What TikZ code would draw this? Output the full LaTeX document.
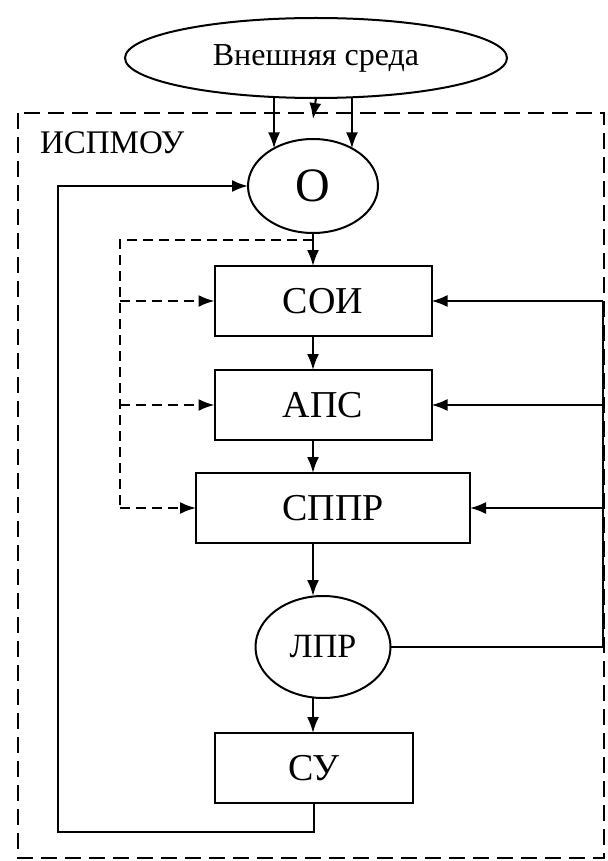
\documentclass[tikz,border=0pt]{standalone}
\usepackage{fontspec}
\setmainfont{Liberation Serif}
\usetikzlibrary{arrows.meta, positioning, shapes.geometric}

\begin{document}
\begin{tikzpicture}[x=0.5pt,y=-0.5pt,inner sep=0pt,outer sep=0pt,line width=1pt,
  blk/.style={draw,rectangle,minimum height=35pt,font=\fontsize{19}{21}\selectfont},
  oval/.style={draw,ellipse},
  arr/.style={-{Latex[length=8pt,width=6pt]}},
  frame/.style={dash pattern=on 8pt off 4pt},
  dsh/.style={dash pattern=on 5pt off 3pt}]
\useasboundingbox (0,0) rectangle (608,861);
\node[oval,minimum width=191pt,minimum height=40pt,font=\fontsize{16}{18}\selectfont] (env) at (316,58) {Внешняя среда};
\draw[frame] (18,113) rectangle (604,858);
\node[anchor=west,font=\fontsize{16.5}{18}\selectfont] (sysname) at (40,143) {ИСПМОУ};
\node[oval,minimum width=65pt,minimum height=47pt,font=\fontsize{24}{26}\selectfont] (obj) at (313,186) {О};
\node[blk,minimum width=108.5pt] (soi) at (323,301) {СОИ};
\node[blk,minimum width=108.5pt] (aps) at (323,405) {АПС};
\node[blk,minimum width=137pt] (sppr) at (333,508) {СППР};
\node[oval,minimum width=67.5pt,minimum height=51pt,font=\fontsize{17}{19}\selectfont] (lpr) at (323,647) {ЛПР};
\node[blk,minimum width=99pt] (su) at (314,768) {СУ};
\coordinate (fbd) at (120,240);
\coordinate (fbl) at (58,832);
\coordinate (fbr) at (603,647);
% inputs from the environment
\draw[arr] (env.south -| obj.136) -- (obj.136);
\draw[arr] (env.south) -- ([yshift=10pt]obj.north);
\draw[arr] (env.south -| obj.44) -- (obj.44);
% main chain
\draw[arr] (obj.south) -- (obj.south |- soi.north);
\draw[arr] (soi.south -| obj.south) -- (obj.south |- aps.north);
\draw[arr] (aps.south -| obj.south) -- (obj.south |- sppr.north);
\draw[arr] (sppr.south -| obj.south) -- (obj.south |- lpr.north);
\draw[arr] (lpr.south -| obj.south) -- (obj.south |- su.north);
% dashed feedback
\draw[dsh] (obj.south |- fbd) -- (fbd) -- (fbd |- sppr.west);
\foreach \n in {soi,aps,sppr}
  \draw[dsh,arr] (fbd |- \n.west) -- (\n.west);
% control loop
\draw[arr] (su.south) |- (fbl) |- (obj.west);
\draw (lpr.east) -- (fbr) -- (fbr |- soi.east);
\foreach \n in {soi,aps,sppr}
  \draw[arr] (fbr |- \n.east) -- (\n.east);
\end{tikzpicture}
\end{document}
